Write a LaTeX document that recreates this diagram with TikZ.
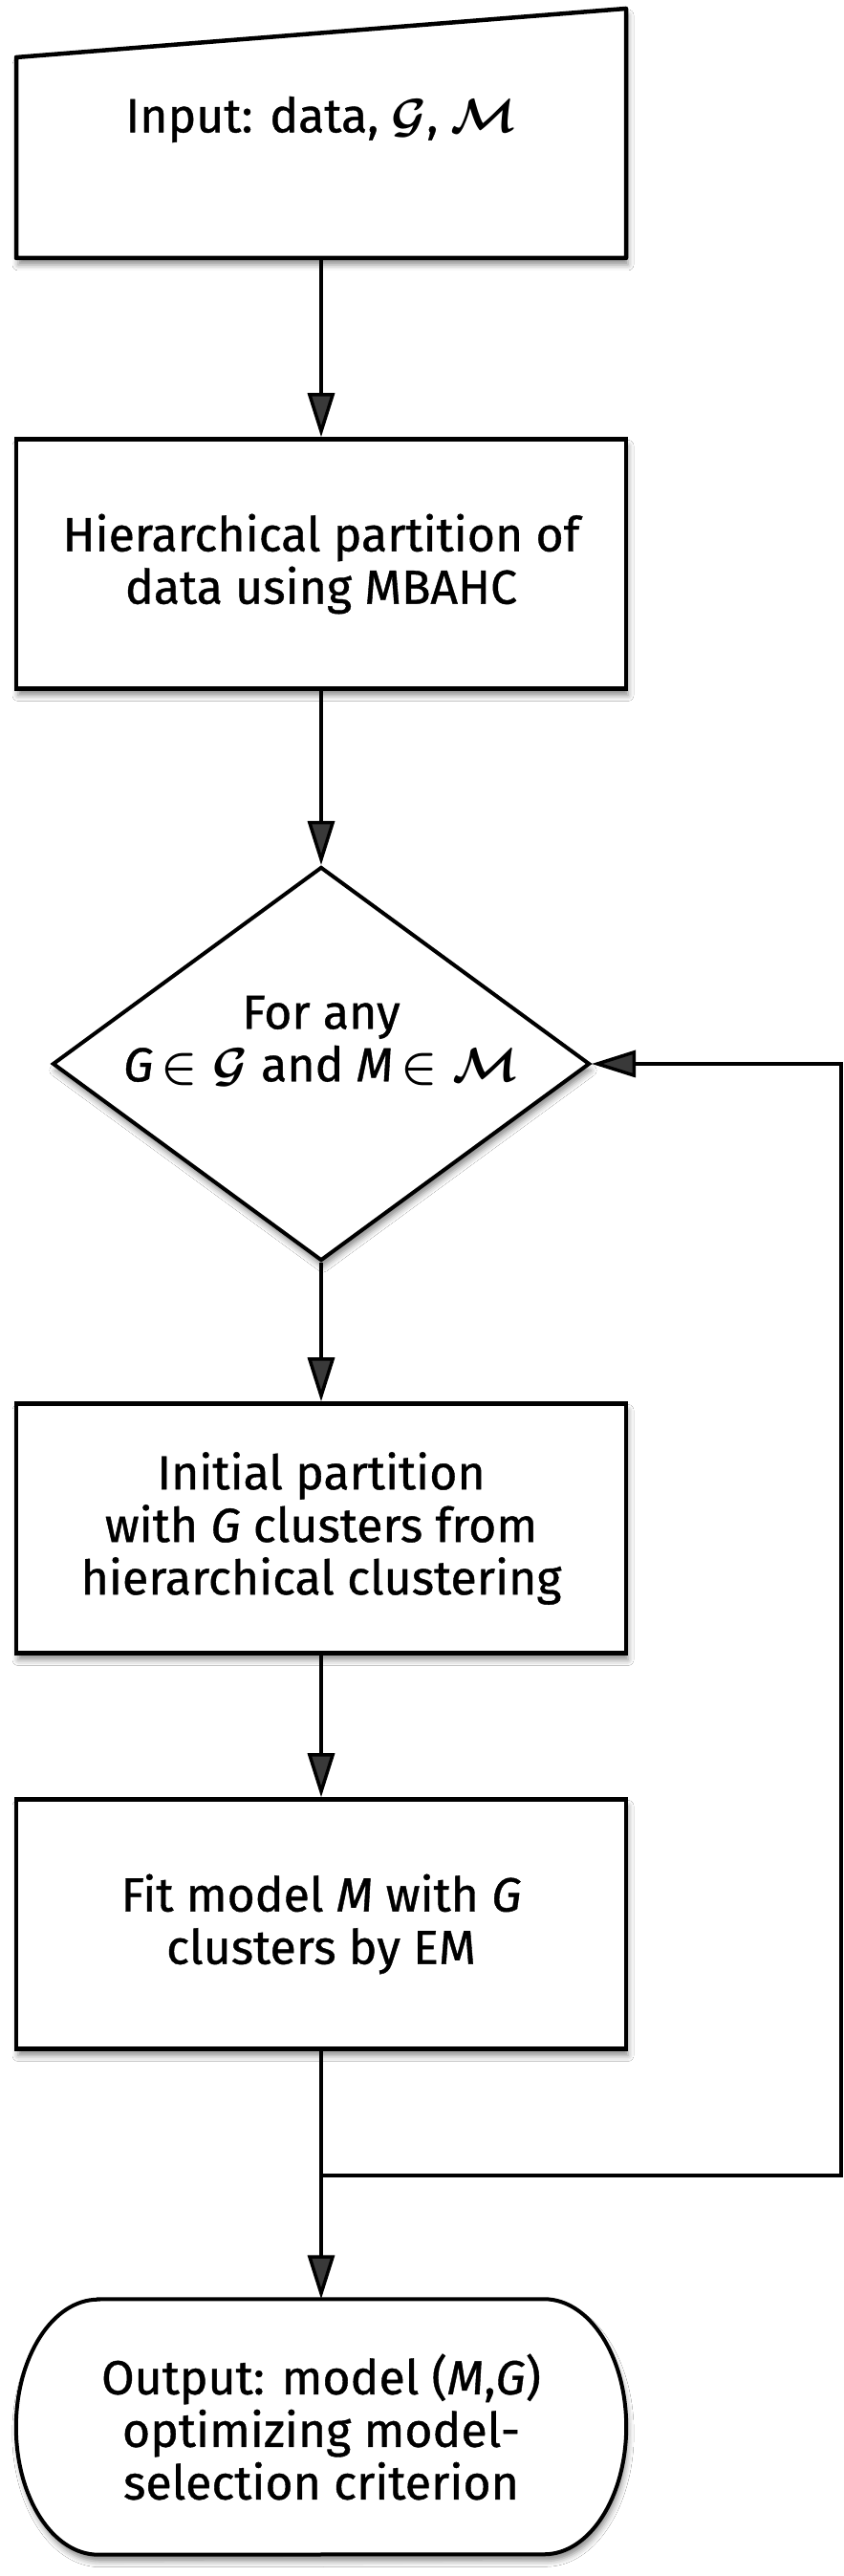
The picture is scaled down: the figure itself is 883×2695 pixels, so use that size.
\documentclass[tikz,border=0pt]{standalone}
\usepackage{fix-cm}
\usepackage{amsmath}
\usepackage{amssymb}
\usepackage{fontspec}
\setmainfont{Fira Sans}[FakeBold=0.8]
\usetikzlibrary{arrows.meta,shapes.geometric,shadows.blur}

\tikzset{
  stepbox/.style={draw=black, line width=4.5pt, fill=white, minimum width=638pt, minimum height=261pt, align=center,
    blur shadow={shadow xshift=2pt, shadow yshift=-7pt, shadow blur radius=6pt, shadow opacity=45}},
  choice/.style={diamond, draw=black, line width=4pt, fill=white, minimum width=562pt, minimum height=412pt, inner sep=0pt,
    blur shadow={shadow xshift=2pt, shadow yshift=-7pt, shadow blur radius=6pt, shadow opacity=45}},
  conn/.style={line width=3.5pt, -{Triangle[length=46pt, width=28pt]}}
}

\begin{document}
\begin{tikzpicture}[x=1pt, y=1pt, font=\fontsize{50}{55}\selectfont]
\useasboundingbox[fill=white] (0,0) rectangle (883,2695);

% manual input
\filldraw[draw=black, fill=white, line width=4.5pt, line join=round,
  blur shadow={shadow xshift=2pt, shadow yshift=-7pt, shadow blur radius=6pt, shadow opacity=45}]
  (17,2425) -- (17,2635) -- (655,2686) -- (655,2425) -- cycle;
\node (inp) at (336,2570) {Input: data, $\boldsymbol{\mathcal{G}}$, $\boldsymbol{\mathcal{M}}$};
\coordinate (inpbot) at (336,2425);

\node[stepbox] (hier) at (336,2105) {Hierarchical partition of\\ data using MBAHC};
\node[choice] (loop) at (336,1582) {};
\node[align=center] (looptxt) at (336,1606) {For any\\ \textit{G}\,$\boldsymbol{\in\mathcal{G}}$ and \textit{M}\,$\boldsymbol{\in\mathcal{M}}$};
\node[stepbox] (init) at (336,1096) {Initial partition\\ with \textit{G} clusters from\\ hierarchical clustering};
\node[stepbox] (fit) at (336,682) {Fit model \textit{M} with \textit{G}\\ clusters by EM};

% terminal
\node[minimum width=638pt, minimum height=267pt] (out) at (336,156) {};
\filldraw[draw=black, fill=white, line width=4pt,
  blur shadow={shadow xshift=2pt, shadow yshift=-7pt, shadow blur radius=6pt, shadow opacity=45}]
  ([xshift=86pt]out.north west) -- ([xshift=-86pt]out.north east)
  arc[start angle=90, end angle=-90, x radius=86pt, y radius=133.5pt]
  -- ([xshift=86pt]out.south west)
  arc[start angle=270, end angle=90, x radius=86pt, y radius=133.5pt] -- cycle;
\node[align=center] (outtxt) at (out) {Output: model (\textit{M},\textit{G})\\ optimizing model-\\ selection criterion};

\coordinate (junc) at (336,419);
\coordinate (back) at (880,419);

\draw[conn] (inpbot) -- (hier.north);
\draw[conn] (hier.south) -- (loop.north);
\draw[conn] (loop.south) -- (init.north);
\draw[conn] (init.south) -- (fit.north);
\draw[conn] (fit.south) -- (out.north);
\draw[conn] (junc) -- (back) |- (loop.east);

\end{tikzpicture}
\end{document}
